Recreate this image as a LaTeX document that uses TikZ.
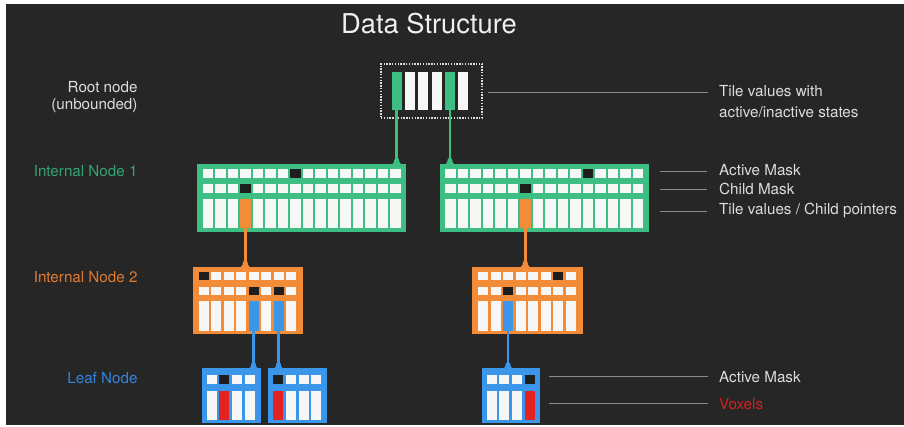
\documentclass[tikz,border=0pt]{standalone}
\usepackage{fontspec}
\setmainfont{TeX Gyre Heros}
\usetikzlibrary{calc}
\definecolor{bgdark}{HTML}{262626}
\definecolor{vgreen}{HTML}{3DBF84}
\definecolor{vorange}{HTML}{F28C38}
\definecolor{vblue}{HTML}{3B95E8}
\definecolor{vred}{HTML}{E52222}
\definecolor{vblack}{HTML}{1E1E1E}
\definecolor{vwhite}{HTML}{F7F7F7}
\definecolor{vtext}{HTML}{DCDCDC}
\definecolor{vline}{HTML}{8A8A8A}
\definecolor{tgreen}{HTML}{32A572}
\definecolor{torange}{HTML}{E07A30}
\definecolor{tblue}{HTML}{3584DC}
\definecolor{tred}{HTML}{D42222}
\newcommand\cellrow[6]{%
  \foreach \i in {1,...,#4} {\fill[vwhite] ({#1+(\i-1)*#5},#2) rectangle ++(#6,{#3-#2});}}
\begin{document}
\begin{tikzpicture}[x=1pt,y=-1pt,
  box/.style={anchor=north west,inner sep=0,outer sep=0,draw=none},
  lbl/.style={text=vtext,font=\fontsize{15.2}{17}\selectfont,inner sep=0},
  conn/.style={line width=2.6pt},
  guide/.style={draw=vline,line width=0.9pt}]
\useasboundingbox (0,0) rectangle (904,427);
\fill[white] (0,0) rectangle (904,427);
\fill[bgdark] (6,4) rectangle (904,425);
% title
\node[text=white!94!black,font=\fontsize{27.3}{30}\selectfont,inner sep=0] (title) at (429,24) {Data Structure};
% root
\node[box,minimum width=101pt,minimum height=54pt,draw=vtext,line width=1.4pt,dash pattern=on 1.4pt off 1.4pt] (root) at (381,64) {};
\foreach \i in {0,...,5} {\fill[vwhite] ({391.7+13.3*\i},72) rectangle ++(10,38);}
\fill[vgreen] (391.7,72) rectangle ++(10,38);
\fill[vgreen] ({391.7+13.3*4},72) rectangle ++(10,38);
\coordinate (r1) at (396.7,110);
\coordinate (r2) at ({396.7+13.3*4},110);
% internal node 1 (left)
\node[box,fill=vgreen,minimum width=209pt,minimum height=68pt] (n1a) at (197,164) {};
\cellrow{202.5}{169}{178.5}{16}{12.5}{10.5}
\cellrow{202.5}{184}{193}{16}{12.5}{10.5}
\cellrow{202.5}{199.5}{228.5}{16}{12.5}{10.5}
\fill[vblack] ({202.5+7*12.5},169) rectangle ++(10.5,9.5);
\fill[vblack] ({202.5+3*12.5},184) rectangle ++(10.5,9);
\fill[vorange] ({202.5+3*12.5},199.5) rectangle ++(10.5,29);
\coordinate (o1) at ({202.5+3*12.5+5.25},228.5);
% internal node 1 (right)
\node[box,fill=vgreen,minimum width=209pt,minimum height=68pt] (n1b) at (439.5,164) {};
\cellrow{445}{169}{178.5}{16}{12.5}{10.5}
\cellrow{445}{184}{193}{16}{12.5}{10.5}
\cellrow{445}{199.5}{228.5}{16}{12.5}{10.5}
\fill[vblack] ({445+11*12.5},169) rectangle ++(10.5,9.5);
\fill[vblack] ({445+6*12.5},184) rectangle ++(10.5,9);
\fill[vorange] ({445+6*12.5},199.5) rectangle ++(10.5,29);
\coordinate (o2) at ({445+6*12.5+5.25},228.5);
% internal node 2 (left)
\node[box,fill=vorange,minimum width=110.6pt,minimum height=67.3pt] (n2a) at (192.7,266.7) {};
\cellrow{198.5}{272.5}{280.5}{8}{12.5}{10}
\cellrow{198.5}{287}{295}{8}{12.5}{10}
\cellrow{198.5}{301.5}{330.5}{8}{12.5}{10}
\fill[vblack] (198.5,272.5) rectangle ++(10,8);
\fill[vblack] ({198.5+4*12.5},287) rectangle ++(10,8);
\fill[vblack] ({198.5+6*12.5},287) rectangle ++(10,8);
\fill[vblue] ({198.5+4*12.5},301.5) rectangle ++(10,29);
\fill[vblue] ({198.5+6*12.5},301.5) rectangle ++(10,29);
\coordinate (b1) at ({198.5+4*12.5+5},330.5);
\coordinate (b2) at ({198.5+6*12.5+5},330.5);
% internal node 2 (right)
\node[box,fill=vorange,minimum width=110.6pt,minimum height=67.3pt] (n2b) at (472.2,266.7) {};
\cellrow{478}{272.5}{280.5}{8}{12.5}{10}
\cellrow{478}{287}{295}{8}{12.5}{10}
\cellrow{478}{301.5}{330.5}{8}{12.5}{10}
\fill[vblack] ({478+6*12.5},272.5) rectangle ++(10,8);
\fill[vblack] ({478+2*12.5},287) rectangle ++(10,8);
\fill[vblue] ({478+2*12.5},301.5) rectangle ++(10,29);
\coordinate (b3) at ({478+2*12.5+5},330.5);
% leaves
\node[box,fill=vblue,minimum width=59pt,minimum height=55pt] (la) at (201.7,368.3) {};
\node[box,fill=vblue,minimum width=58.5pt,minimum height=55pt] (lb) at (268.3,368.3) {};
\node[box,fill=vblue,minimum width=58.5pt,minimum height=55pt] (lc) at (481.7,368.3) {};
\foreach \xo in {206.7,273.3,486.7} {
  \cellrow{\xo}{375}{384}{4}{12.6}{10}
  \cellrow{\xo}{390.5}{420}{4}{12.6}{10}
}
\fill[vblack] ({206.7+12.6},375) rectangle ++(10,9);
\fill[vred] ({206.7+12.6},390.5) rectangle ++(10,29.5);
\fill[vblack] (273.3,375) rectangle ++(10,9);
\fill[vred] (273.3,390.5) rectangle ++(10,29.5);
\fill[vblack] ({486.7+3*12.6},375) rectangle ++(10,9);
\fill[vred] ({486.7+3*12.6},390.5) rectangle ++(10,29.5);
% connectors with pins
\foreach \src/\dst/\col in {r1/n1a/vgreen,r2/n1b/vgreen,o1/n2a/vorange,o2/n2b/vorange,b1/la/vblue,b2/lb/vblue,b3/lc/vblue} {
  \draw[conn,draw=\col] (\src) -- (\src |- \dst.north);
  \fill[\col] ($(\src |- \dst.north)+(-4.5,0.5)$) -- ($(\src |- \dst.north)+(0,-6)$) -- ($(\src |- \dst.north)+(4.5,0.5)$) -- cycle;
  \fill[\col] ($(\src |- \dst.north)+(0,-3.5)$) circle (2.6);
}
% left labels
\node[lbl,anchor=east] (lroot1) at (137.7,86.7) {Root node};
\node[lbl,anchor=east] (lroot2) at (137.7,106) {(unbounded)};
\node[lbl,anchor=east,text=tgreen] (lin1) at (137.7,171.5) {Internal Node 1};
\node[lbl,anchor=east,text=torange] (lin2) at (137.7,276.7) {Internal Node 2};
\node[lbl,anchor=east,text=tblue] (lleaf) at (137.7,378.3) {Leaf Node};
% right labels
\node[lbl,anchor=west] (tv1) at (719,91) {Tile values with};
\node[lbl,anchor=west] (tv2) at (719,112) {active/inactive states};
\coordinate (tvs) at (488,92);
\coordinate (tve) at (708,92);
\draw[guide] (tvs) -- (tve);
\node[lbl,anchor=west] (am1) at (719,170) {Active Mask};
\node[lbl,anchor=west] (cm1) at (719,189) {Child Mask};
\node[lbl,anchor=west] (tp1) at (719,210) {Tile values / Child pointers};
\foreach \yy in {171.5,189,211} {\draw[guide] (660,\yy) -- (707,\yy);}
\node[lbl,anchor=west] (am2) at (719,377) {Active Mask};
\node[lbl,anchor=west,text=tred] (vx) at (719,404) {Voxels};
\foreach \yy in {376,403} {\draw[guide] (549,\yy) -- (708,\yy);}
\end{tikzpicture}
\end{document}
